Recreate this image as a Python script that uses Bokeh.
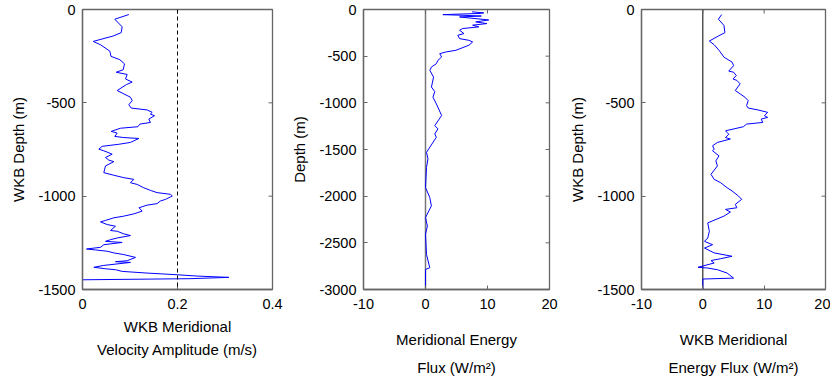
from bokeh.plotting import figure
from bokeh.layouts import row
from bokeh.models import Range1d, FixedTicker, Span
from bokeh.embed import file_html
from bokeh.resources import INLINE

# ---------------- data ----------------
# Panel 1: WKB meridional velocity amplitude (m/s) vs WKB depth (m)
vel_amp = [0.0975, 0.068, 0.0835, 0.0815, 0.0646, 0.0225, 0.038, 0.0575, 0.060, 0.0786,
           0.0884, 0.0856, 0.071, 0.094, 0.0905, 0.1046, 0.0926, 0.073, 0.087, 0.101,
           0.1046, 0.0975, 0.1025, 0.136, 0.1467, 0.143, 0.1516, 0.1396, 0.143, 0.1207,
           0.1165, 0.080, 0.0604, 0.073, 0.068, 0.087, 0.1186, 0.101, 0.0765, 0.0414,
           0.0344, 0.0449, 0.0625, 0.0484, 0.0554, 0.066, 0.0484, 0.0449, 0.066, 0.087,
           0.108, 0.101, 0.115, 0.129, 0.143, 0.157, 0.185, 0.189, 0.175, 0.164,
           0.157, 0.136, 0.119, 0.1256, 0.108, 0.087, 0.066, 0.0484, 0.038, 0.052,
           0.0695, 0.059, 0.073, 0.087, 0.101, 0.073, 0.059, 0.0484, 0.0835, 0.0449,
           0.038, 0.0084, 0.0274, 0.052, 0.066, 0.087, 0.1116, 0.094, 0.0695, 0.101,
           0.0449, 0.0239, 0.0484, 0.0695, 0.0835, 0.136, 0.199, 0.241, 0.308, 0.227,
           0.0, 0.0]
vel_depth = [-27, -52, -93, -124, -142, -171, -189, -223, -251, -269,
             -291, -323, -336, -348, -372, -389, -402, -434, -452, -470,
             -488, -510, -528, -538, -551, -560, -569, -587, -605, -614,
             -628, -636, -653, -662, -680, -686, -691, -712, -722, -733,
             -748, -757, -775, -793, -807, -815, -838, -874, -888, -901,
             -910, -928, -937, -955, -969, -981, -990, -999, -1017, -1026,
             -1040, -1048, -1062, -1080, -1095, -1107, -1116, -1130, -1138, -1152,
             -1161, -1184, -1188, -1202, -1211, -1224, -1233, -1242, -1248, -1260,
             -1274, -1283, -1288, -1295, -1304, -1313, -1328, -1346, -1351, -1355,
             -1371, -1381, -1389, -1394, -1403, -1412, -1421, -1428, -1435, -1442,
             -1448, -1500]

# Panel 2: meridional energy flux (W/m^2) vs depth (m)
flux = [7.5, 9.4, 8.8, 2.8, 6.0, 9.0, 5.5, 10.2, 8.1, 9.9,
        7.6, 8.6, 6.0, 5.5, 6.2, 5.2, 5.5, 7.0, 7.6, 7.0,
        4.9, 3.3, 2.3, 2.6, 2.0, 1.75, 0.96, 0.7, 1.3, 0.96,
        1.5, 1.2, 1.75, 2.6, 1.5, 2.0, 1.5, 1.75, 0.16, 0.4,
        0.16, 0.0, 0.69, 0.95, 0.0, 0.3, 0.0, 0.16, 0.69, 0.0,
        0.0]
flux_depth = [-25, -36, -42, -55, -62, -70, -80, -112, -133, -151,
              -168, -186, -204, -222, -258, -276, -312, -330, -348, -383,
              -437, -455, -473, -509, -545, -581, -616, -652, -724, -831,
              -880, -939, -1011, -1136, -1244, -1279, -1333, -1369, -1530, -1600,
              -1692, -1907, -2014, -2104, -2229, -2320, -2408, -2623, -2767, -2785,
              -3000]

# Panel 3: WKB meridional energy flux (W/m^2) vs WKB depth (m)
wkb_flux = [3.07, 2.54, 3.44, 3.60, 2.54, 1.06, 1.85, 2.65, 3.44, 4.76,
            5.02, 4.23, 5.02, 5.45, 4.92, 5.55, 6.08, 5.29, 6.08, 6.87,
            7.40, 7.13, 7.40, 8.98, 10.57, 10.04, 10.57, 9.51, 9.77, 7.13,
            6.61, 3.70, 4.23, 3.70, 4.49, 2.38, 1.59, 1.85, 1.59, 2.64,
            2.12, 2.38, 1.33, 1.85, 2.91, 3.96, 4.76, 5.81, 6.34, 5.29,
            5.55, 3.70, 4.5, 3.44, 0.80, 1.06, 0.80, 0.27, 1.59, 0.27,
            1.85, 4.76, 2.91, 1.33, 1.85, -0.79, 0.80, 2.38, 3.96, 5.02,
            0.0, 0.0]
wkb_flux_depth = [-27, -52, -85, -124, -142, -169, -189, -219, -255, -282,
                  -300, -330, -336, -354, -372, -380, -398, -434, -452, -470,
                  -488, -515, -528, -538, -551, -569, -578, -587, -605, -614,
                  -628, -650, -668, -686, -694, -712, -730, -748, -757, -784,
                  -811, -838, -883, -910, -928, -955, -972, -999, -1017, -1044,
                  -1062, -1071, -1085, -1107, -1143, -1188, -1224, -1242, -1260, -1278,
                  -1304, -1322, -1335, -1345, -1358, -1381, -1385, -1394, -1412, -1439,
                  -1444, -1500]

# ticks
vel_xticks = [0, 0.2, 0.4]
vel_xlabels = ["0", "0.2", "0.4"]
flux_xticks = [-10, 0, 10, 20]
flux_xlabels = ["-10", "0", "10", "20"]
wkb_yticks = [-1500, -1000, -500, 0]
wkb_ylabels = ["-1500", "-1000", "-500", "0"]
deep_yticks = [-3000, -2500, -2000, -1500, -1000, -500, 0]
deep_ylabels = ["-3000", "-2500", "-2000", "-1500", "-1000", "-500", "0"]

vel_ref = 0.2      # dashed reference amplitude
zero_ref = 0.0     # zero flux line

# ---------------- styling ----------------
FONT = "Liberation Sans"
AXIS_COLOR = "#666666"
TICK_SIZE = "14.5px"
LABEL_SIZE = "15px"
BLUE = "#0000ff"
FIG_H = 378
B_TOP = 9
B_BOT = 89
TICK_LEN = 4


def make_panel(width, left, right, xr, yr, xticks, xlabels, yticks, ylabels,
               ylabel, xlabel, line_h, xl_standoff):
    p = figure(width=width, height=FIG_H,
               x_range=Range1d(*xr), y_range=Range1d(*yr),
               output_backend="svg", toolbar_location=None,
               min_border_left=left, min_border_right=right,
               min_border_top=B_TOP, min_border_bottom=B_BOT)
    p.xgrid.visible = False
    p.ygrid.visible = False
    p.outline_line_color = AXIS_COLOR
    p.outline_line_width = 1.3
    p.background_fill_color = "white"
    p.border_fill_color = "white"

    xa = p.below[0]
    ya = p.left[0]
    xa.ticker = FixedTicker(ticks=xticks)
    xa.major_label_overrides = {t: l for t, l in zip(xticks, xlabels)}
    xa.major_label_standoff = 9
    xa.axis_label = xlabel
    xa.axis_label_standoff = xl_standoff
    xa.axis_label_text_line_height = line_h

    ya.ticker = FixedTicker(ticks=yticks)
    ya.major_label_overrides = {t: l for t, l in zip(yticks, ylabels)}
    ya.major_label_standoff = 7
    ya.axis_label = ylabel
    ya.axis_label_standoff = 8

    for ax in (xa, ya):
        ax.axis_label_text_font = FONT
        ax.axis_label_text_font_size = LABEL_SIZE
        ax.axis_label_text_font_style = "normal"
        ax.axis_label_text_color = "black"
        ax.axis_line_color = AXIS_COLOR
        ax.axis_line_width = 1.3
        ax.major_tick_line_color = AXIS_COLOR
        ax.major_tick_in = TICK_LEN
        ax.major_tick_out = 0
        ax.minor_tick_line_color = None
        ax.major_label_text_font = FONT
        ax.major_label_text_font_size = TICK_SIZE
        ax.major_label_text_color = "black"

    # box ticks on top and right edges (MATLAB "box on"), in data units
    fw = width - left - right
    fh = FIG_H - B_TOP - B_BOT
    dy = (yr[1] - yr[0]) * TICK_LEN / fh
    dx = (xr[1] - xr[0]) * TICK_LEN / fw
    p.segment(x0=xticks, y0=[yr[1]] * len(xticks), x1=xticks,
              y1=[yr[1] - dy] * len(xticks), line_color=AXIS_COLOR, line_width=1)
    p.segment(x0=[xr[1]] * len(yticks), y0=yticks, x1=[xr[1] - dx] * len(yticks),
              y1=yticks, line_color=AXIS_COLOR, line_width=1)
    return p


p1 = make_panel(288, 82, 16, (0, 0.4), (-1500, 0), vel_xticks, vel_xlabels,
                wkb_yticks, wkb_ylabels, "WKB Depth (m)",
                "WKB Meridional\nVelocity Amplitude (m/s)", 1.38, 6)
p1.line(vel_amp, vel_depth, line_color=BLUE, line_width=1)
p1.add_layout(Span(location=vel_ref, dimension="height", line_color="black",
                   line_width=1, line_dash="4 3"))

p2 = make_panel(278, 71, 17, (-10, 20), (-3000, 0), flux_xticks, flux_xlabels,
                deep_yticks, deep_ylabels, "Depth (m)",
                "Meridional Energy\nFlux (W/m²)", 1.67, 19)
p2.add_layout(Span(location=zero_ref, dimension="height", line_color="#777777",
                   line_width=1.5, level="underlay"))
p2.line(flux, flux_depth, line_color=BLUE, line_width=1)

p3 = make_panel(264, 70, 5, (-10, 20), (-1500, 0), flux_xticks, flux_xlabels,
                wkb_yticks, wkb_ylabels, "WKB Depth (m)",
                "WKB Meridional\nEnergy Flux (W/m²)", 1.67, 19)
p3.add_layout(Span(location=zero_ref, dimension="height", line_color="black",
                   line_width=1, level="underlay"))
p3.line(wkb_flux, wkb_flux_depth, line_color=BLUE, line_width=1)

layout = row(p1, p2, p3, spacing=0)
open("out.html", "w").write(file_html(layout, INLINE))
